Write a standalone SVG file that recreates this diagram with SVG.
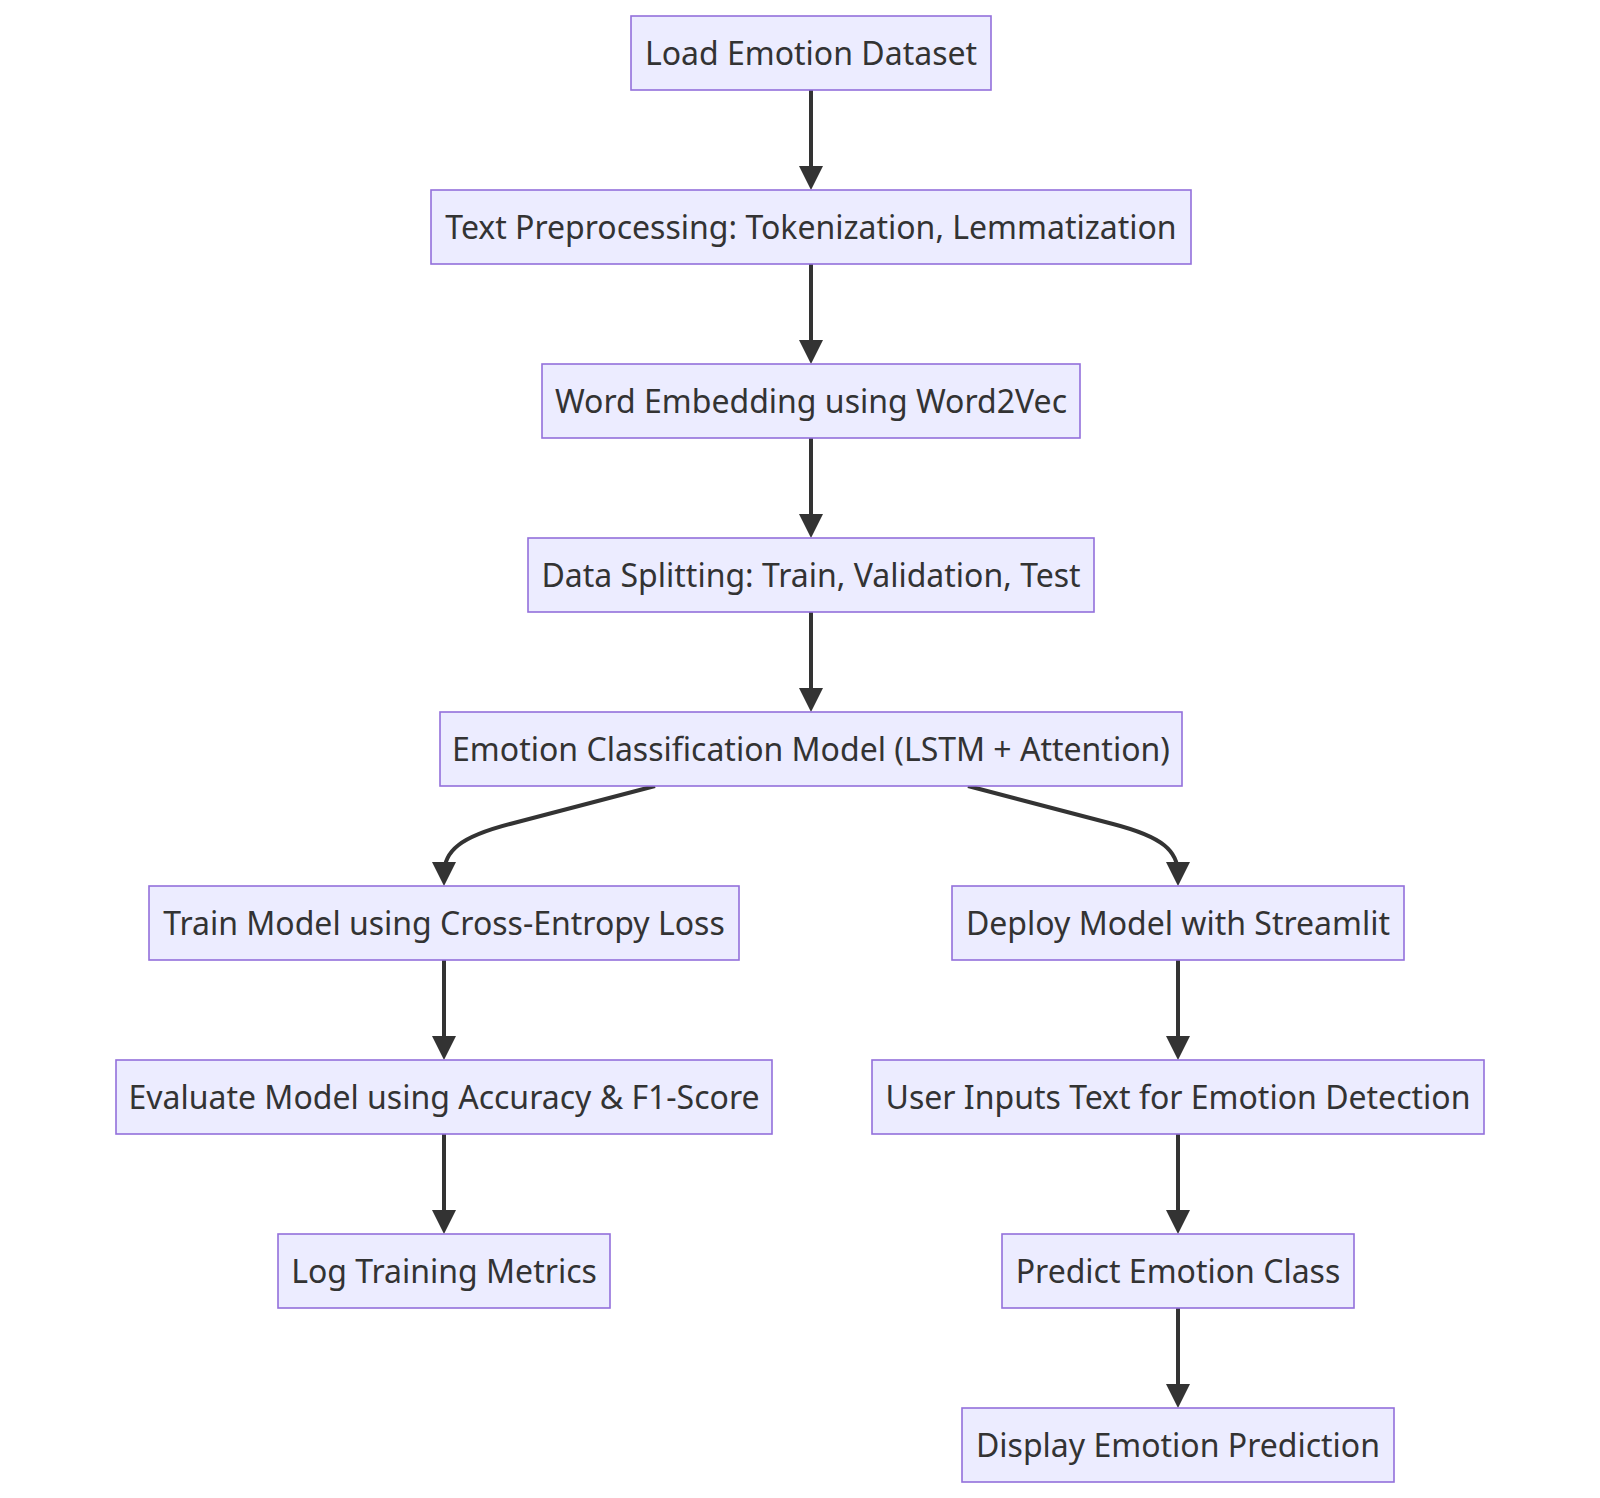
<svg xmlns="http://www.w3.org/2000/svg" width="1600" height="1498" viewBox="0 0 1600 1498">
  <style>
    .node rect { fill: #ECECFF; stroke: #9370DB; stroke-width: 1.6; }
    .node text { font-family: "Noto Sans", "Open Sans", sans-serif; font-size: 32px; fill: #333333; text-anchor: middle; }
    .edge { fill: none; stroke: #333333; stroke-width: 4; marker-end: url(#arrow); }
  </style>
  <defs>
    <marker id="arrow" viewBox="0 0 24 24" markerUnits="userSpaceOnUse" markerWidth="24" markerHeight="24" refX="12" refY="12" orient="auto">
      <path d="M0,0 L24,12 L0,24 z" fill="#333333"/>
    </marker>
  </defs>
  <rect width="1600" height="1498" fill="#ffffff"/>

  <!-- connectors -->
  <g id="connectors">
    <path class="edge" d="M811,90 L811,178"/>
    <path class="edge" d="M811,264 L811,352"/>
    <path class="edge" d="M811,438 L811,526"/>
    <path class="edge" d="M811,612 L811,700"/>
    <path class="edge" d="M655,786 L510,824 C460,837 444,851 444,874"/>
    <path class="edge" d="M968,786 L1113,824 C1163,837 1178,851 1178,874"/>
    <path class="edge" d="M444,960 L444,1048"/>
    <path class="edge" d="M444,1134 L444,1222"/>
    <path class="edge" d="M1178,960 L1178,1048"/>
    <path class="edge" d="M1178,1134 L1178,1222"/>
    <path class="edge" d="M1178,1308 L1178,1396"/>
  </g>

  <!-- nodes -->
  <g id="load" class="node">
    <rect x="631" y="16" width="360" height="74"/>
    <text x="811" y="65">Load Emotion Dataset</text>
  </g>
  <g id="preprocess" class="node">
    <rect x="431" y="190" width="760" height="74"/>
    <text x="811" y="239">Text Preprocessing: Tokenization, Lemmatization</text>
  </g>
  <g id="embedding" class="node">
    <rect x="542" y="364" width="538" height="74"/>
    <text x="811" y="413">Word Embedding using Word2Vec</text>
  </g>
  <g id="split" class="node">
    <rect x="528" y="538" width="566" height="74"/>
    <text x="811" y="587">Data Splitting: Train, Validation, Test</text>
  </g>
  <g id="model" class="node">
    <rect x="440" y="712" width="742" height="74"/>
    <text x="811" y="761">Emotion Classification Model (LSTM + Attention)</text>
  </g>
  <g id="train" class="node">
    <rect x="149" y="886" width="590" height="74"/>
    <text x="444" y="935">Train Model using Cross-Entropy Loss</text>
  </g>
  <g id="deploy" class="node">
    <rect x="952" y="886" width="452" height="74"/>
    <text x="1178" y="935">Deploy Model with Streamlit</text>
  </g>
  <g id="evaluate" class="node">
    <rect x="116" y="1060" width="656" height="74"/>
    <text x="444" y="1109">Evaluate Model using Accuracy &amp; F1-Score</text>
  </g>
  <g id="userinput" class="node">
    <rect x="872" y="1060" width="612" height="74"/>
    <text x="1178" y="1109">User Inputs Text for Emotion Detection</text>
  </g>
  <g id="logmetrics" class="node">
    <rect x="278" y="1234" width="332" height="74"/>
    <text x="444" y="1283">Log Training Metrics</text>
  </g>
  <g id="predict" class="node">
    <rect x="1002" y="1234" width="352" height="74"/>
    <text x="1178" y="1283">Predict Emotion Class</text>
  </g>
  <g id="display" class="node">
    <rect x="962" y="1408" width="432" height="74"/>
    <text x="1178" y="1457">Display Emotion Prediction</text>
  </g>
</svg>
